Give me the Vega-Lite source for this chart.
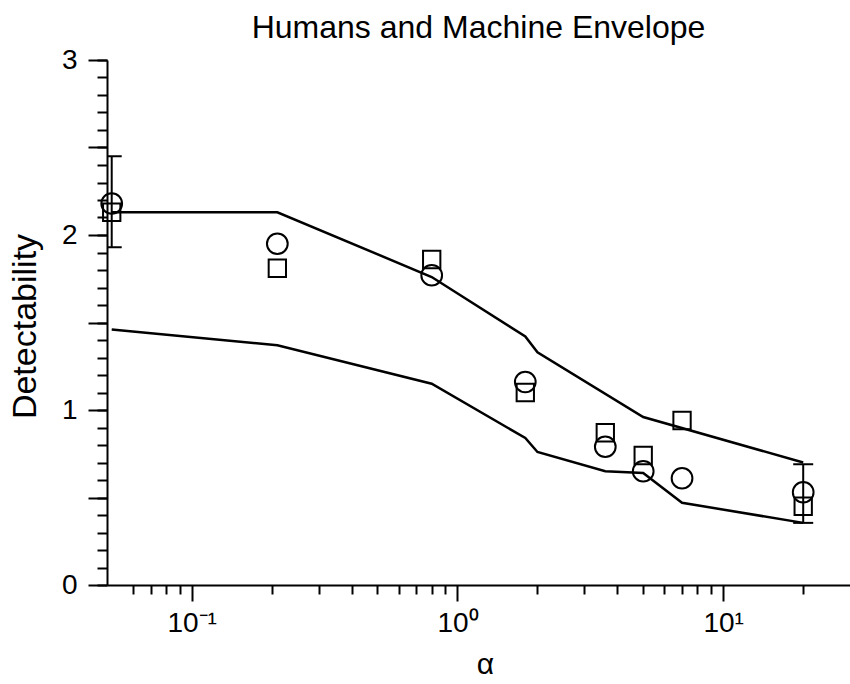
{
  "$schema": "https://vega.github.io/schema/vega-lite/v6.json",
  "autosize": {"type": "none"},
  "padding": {"left": 107, "top": 60, "right": 0, "bottom": 99},
  "width": 743,
  "height": 525,
  "background": "white",
  "title": {
    "text": "Humans and Machine Envelope",
    "font": "Liberation Sans",
    "fontSize": 32,
    "fontWeight": "normal",
    "color": "black",
    "anchor": "middle",
    "frame": "group",
    "baseline": "alphabetic",
    "offset": -24
  },
  "config": {
    "view": {"stroke": null},
    "font": "Liberation Sans",
    "axis": {
      "grid": false,
      "domainColor": "black",
      "domainWidth": 2,
      "tickColor": "black",
      "tickWidth": 2,
      "labelColor": "black",
      "titleColor": "black",
      "labelFont": "Liberation Sans",
      "titleFont": "Liberation Sans",
      "titleFontWeight": "normal",
      "labelOverlap": false,
      "labelFlush": false
    }
  },
  "datasets": {
    "envelope": [
      {"env": "upper", "alpha": 0.05, "d": 2.13},
      {"env": "upper", "alpha": 0.21, "d": 2.13},
      {"env": "upper", "alpha": 0.8, "d": 1.76},
      {"env": "upper", "alpha": 1.8, "d": 1.42},
      {"env": "upper", "alpha": 2.0, "d": 1.33},
      {"env": "upper", "alpha": 5, "d": 0.96},
      {"env": "upper", "alpha": 20, "d": 0.70},
      {"env": "lower", "alpha": 0.05, "d": 1.46},
      {"env": "lower", "alpha": 0.21, "d": 1.37},
      {"env": "lower", "alpha": 0.8, "d": 1.15},
      {"env": "lower", "alpha": 1.8, "d": 0.84},
      {"env": "lower", "alpha": 2.0, "d": 0.76},
      {"env": "lower", "alpha": 3.6, "d": 0.65},
      {"env": "lower", "alpha": 5, "d": 0.64},
      {"env": "lower", "alpha": 7, "d": 0.47},
      {"env": "lower", "alpha": 20, "d": 0.355}
    ],
    "subjects": [
      {"subject": "RFW", "alpha": 0.05, "d": 2.18},
      {"subject": "RFW", "alpha": 0.21, "d": 1.95},
      {"subject": "RFW", "alpha": 0.8, "d": 1.77},
      {"subject": "RFW", "alpha": 1.8, "d": 1.16},
      {"subject": "RFW", "alpha": 3.6, "d": 0.79},
      {"subject": "RFW", "alpha": 5, "d": 0.65},
      {"subject": "RFW", "alpha": 7, "d": 0.61},
      {"subject": "RFW", "alpha": 20, "d": 0.53},
      {"subject": "KJM", "alpha": 0.05, "d": 2.13},
      {"subject": "KJM", "alpha": 0.21, "d": 1.81},
      {"subject": "KJM", "alpha": 0.8, "d": 1.86},
      {"subject": "KJM", "alpha": 1.8, "d": 1.10},
      {"subject": "KJM", "alpha": 3.6, "d": 0.87},
      {"subject": "KJM", "alpha": 5, "d": 0.74},
      {"subject": "KJM", "alpha": 7, "d": 0.94},
      {"subject": "KJM", "alpha": 20, "d": 0.45}
    ],
    "errors": [
      {"alpha": 0.05, "lo": 1.93, "hi": 2.45},
      {"alpha": 20, "lo": 0.355, "hi": 0.69}
    ]
  },
  "resolve": {"axis": {"x": "independent", "y": "independent"}},
  "layer": [
    {
      "data": {"name": "envelope"},
      "mark": {"type": "line", "color": "black", "strokeWidth": 2.5},
      "encoding": {
        "x": {
          "field": "alpha",
          "type": "quantitative",
          "scale": {"type": "log", "domain": [0.048, 30], "nice": false, "zero": false},
          "axis": {
            "orient": "bottom",
            "values": [0.06, 0.07, 0.08, 0.09, 0.2, 0.3, 0.4, 0.5, 0.6, 0.7, 0.8, 0.9, 2, 3, 4, 5, 6, 7, 8, 9, 20],
            "tickSize": 9,
            "labels": false,
            "title": null,
            "domain": true
          }
        },
        "y": {
          "field": "d",
          "type": "quantitative",
          "scale": {"domain": [0, 3], "nice": false, "zero": false},
          "axis": {
            "orient": "left",
            "values": [0, 0.1, 0.2, 0.3, 0.4, 0.5, 0.6, 0.7, 0.8, 0.9, 1, 1.1, 1.2, 1.3, 1.4, 1.5, 1.6, 1.7, 1.8, 1.9, 2, 2.1, 2.2, 2.3, 2.4, 2.5, 2.6, 2.7, 2.8, 2.9, 3],
            "tickSize": 10,
            "labels": false,
            "title": null,
            "domain": true
          }
        },
        "detail": {"field": "env", "type": "nominal"}
      }
    },
    {
      "layer": [
        {
          "data": {"name": "subjects"},
          "mark": {"type": "point", "filled": false, "color": "black", "strokeWidth": 2, "opacity": 1},
          "encoding": {
            "x": {
              "field": "alpha",
              "type": "quantitative",
              "title": "α",
              "axis": {
                "orient": "bottom",
                "values": [0.1, 1, 10],
                "labelExpr": "datum.value == 0.1 ? '10⁻¹' : datum.value == 1 ? '10⁰' : '10¹'",
                "tickSize": 16,
                "labelFontSize": 28,
                "labelPadding": 8,
                "labelOverlap": false,
                "titleFontSize": 30,
                "titleX": 378,
                "titleY": 88,
                "titleBaseline": "alphabetic",
                "domain": false
              }
            },
            "y": {
              "field": "d",
              "type": "quantitative",
              "title": "Detectability",
              "axis": {
                "orient": "left",
                "values": [0, 0.5, 1, 1.5, 2, 2.5, 3],
                "labelExpr": "datum.value == 0 ? '0' : datum.value == 1 ? '1' : datum.value == 2 ? '2' : datum.value == 3 ? '3' : ''",
                "tickSize": 19,
                "labelFontSize": 28,
                "labelPadding": 11,
                "labelOverlap": false,
                "titleFontSize": 34,
                "titleX": -72,
                "titleY": 266,
                "titleBaseline": "alphabetic",
                "domain": false
              }
            },
            "shape": {"field": "subject", "type": "nominal", "scale": {"domain": ["RFW", "KJM"], "range": ["circle", "square"]}, "legend": null},
            "size": {"field": "subject", "type": "nominal", "scale": {"domain": ["RFW", "KJM"], "range": [430, 300]}, "legend": null}
          }
        },
        {
          "mark": {"type": "rule", "color": "black", "strokeWidth": 2},
          "encoding": {"y": {"datum": 3}}
        },
        {
          "data": {"name": "errors"},
          "mark": {"type": "rule", "color": "black", "strokeWidth": 2},
          "encoding": {
            "x": {"field": "alpha", "type": "quantitative", "title": "α"},
            "y": {"field": "lo", "type": "quantitative", "title": "Detectability"},
            "y2": {"field": "hi"}
          }
        },
        {
          "data": {"name": "errors"},
          "mark": {"type": "tick", "orient": "horizontal", "color": "black", "size": 20, "thickness": 2, "opacity": 1, "clip": true},
          "encoding": {
            "x": {"field": "alpha", "type": "quantitative", "title": "α"},
            "y": {"field": "lo", "type": "quantitative", "title": "Detectability"}
          }
        },
        {
          "data": {"name": "errors"},
          "mark": {"type": "tick", "orient": "horizontal", "color": "black", "size": 20, "thickness": 2, "opacity": 1, "clip": true},
          "encoding": {
            "x": {"field": "alpha", "type": "quantitative", "title": "α"},
            "y": {"field": "hi", "type": "quantitative", "title": "Detectability"}
          }
        },
        {
          "mark": {"type": "text", "text": "RFW", "font": "Liberation Sans", "fontSize": 24, "align": "left", "baseline": "alphabetic", "color": "black"},
          "encoding": {"x": {"datum": 10.43}, "y": {"datum": 2.783}}
        },
        {
          "mark": {"type": "text", "text": "KJM", "font": "Liberation Sans", "fontSize": 24, "align": "left", "baseline": "alphabetic", "color": "black"},
          "encoding": {"x": {"datum": 10.43}, "y": {"datum": 2.331}}
        },
        {
          "mark": {"type": "point", "shape": "circle", "filled": false, "color": "black", "strokeWidth": 2, "opacity": 1, "size": 430},
          "encoding": {"x": {"datum": 11.68}, "y": {"datum": 2.651}}
        },
        {
          "mark": {"type": "point", "shape": "square", "filled": false, "color": "black", "strokeWidth": 2, "opacity": 1, "size": 300},
          "encoding": {"x": {"datum": 11.7}, "y": {"datum": 2.203}}
        }
      ]
    }
  ]
}
